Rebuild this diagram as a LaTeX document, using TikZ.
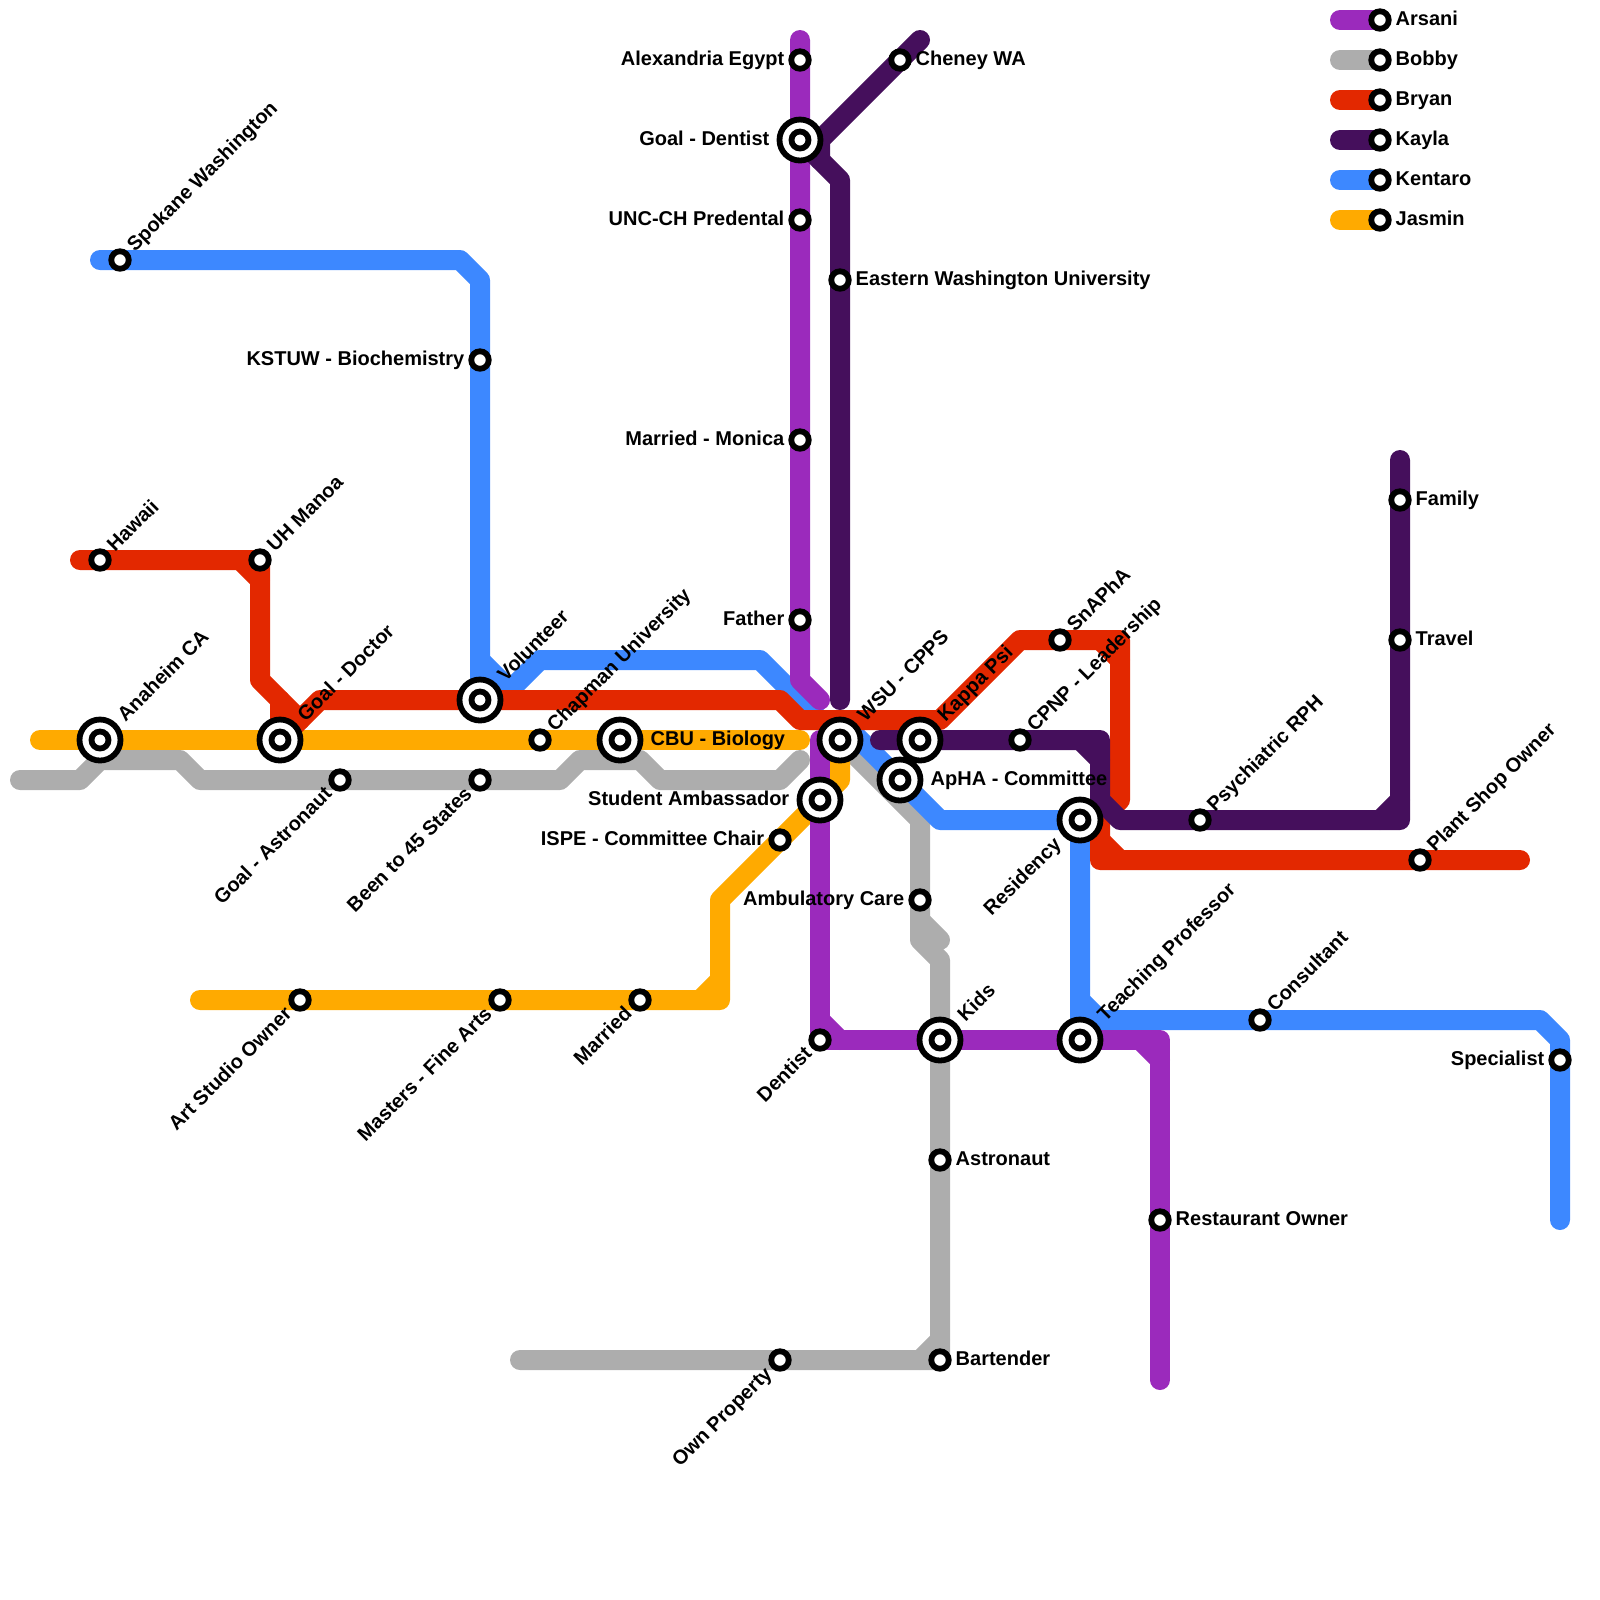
\documentclass[tikz,border=0pt]{standalone}
\usepackage{fontspec}
\setmainfont{Liberation Sans}
\usetikzlibrary{backgrounds}
\definecolor{arsani}{RGB}{155,42,188}
\definecolor{bobby}{RGB}{173,173,173}
\definecolor{bryan}{RGB}{227,40,0}
\definecolor{kayla}{RGB}{69,15,92}
\definecolor{kentaro}{RGB}{61,136,255}
\definecolor{jasmin}{RGB}{255,170,0}
\tikzstyle{route} = [line width=0.2cm, line cap=round, line join=round]
\tikzstyle{smallstn} = [circle, draw=black, fill=white, line width=0.058cm, inner sep=0pt, minimum size=0.175cm]
\tikzstyle{bigstn} = [circle, draw=black, fill=white, line width=0.058cm, inner sep=0pt, minimum size=0.41cm, path picture={\draw [line width=0.058cm, fill=white] (path picture bounding box.center) circle (0.085cm);}]
\tikzstyle{lbl} = [font=\fontsize{5.69pt}{7pt}\selectfont\bfseries, text=black, inner ysep=0pt, text height=0.16cm, text depth=0.046cm, inner xsep=0.15cm]
\tikzstyle{lblr} = [lbl, anchor=west]
\tikzstyle{lbll} = [lbl, anchor=east]
\tikzstyle{lblu} = [lbl, anchor=west, rotate=45]
\tikzstyle{lbld} = [lbl, anchor=east, rotate=45]
\tikzstyle{far} = [inner xsep=0.3cm]
\begin{document}
\begin{tikzpicture}[x=0.2cm, y=-0.2cm]
        \useasboundingbox (0,0) rectangle (80,80);

        % stations
        \node (alex) [smallstn] at (40,3) {};
        \node (dentgoal) [bigstn] at (40,7) {};
        \node (unc) [smallstn] at (40,11) {};
        \node (monica) [smallstn] at (40,22) {};
        \node (father) [smallstn] at (40,31) {};
        \node (student) [bigstn] at (41,40) {};
        \node (dentist) [smallstn] at (41,52) {};
        \node (kids) [bigstn] at (47,52) {};
        \node (teach) [bigstn] at (54,52) {};
        \node (rest) [smallstn] at (58,61) {};

        \node (anaheim) [bigstn] at (5,37) {};
        \node (doctor) [bigstn] at (14,37) {};
        \node (chapman) [smallstn] at (27,37) {};
        \node (cbu) [bigstn] at (31,37) {};
        \node (ispe) [smallstn] at (39,42) {};
        \node (married) [smallstn] at (32,50) {};
        \node (fine) [smallstn] at (25,50) {};
        \node (art) [smallstn] at (15,50) {};

        \node (goalastro) [smallstn] at (17,39) {};
        \node (states) [smallstn] at (24,39) {};
        \node (wsu) [bigstn] at (42,37) {};
        \node (ambu) [smallstn] at (46,45) {};
        \node (astro) [smallstn] at (47,58) {};
        \node (bartend) [smallstn] at (47,68) {};
        \node (owner) [smallstn] at (39,68) {};

        \node (hawaii) [smallstn] at (5,28) {};
        \node (manoa) [smallstn] at (13,28) {};
        \node (volunteer) [bigstn] at (24,35) {};
        \node (kappa) [bigstn] at (46,37) {};
        \node (snapha) [smallstn] at (53,32) {};
        \node (plant) [smallstn] at (71,43) {};

        \node (cheney) [smallstn] at (45,3) {};
        \node (eastern) [smallstn] at (42,14) {};
        \node (cpnp) [smallstn] at (51,37) {};
        \node (psych) [smallstn] at (60,41) {};
        \node (family) [smallstn] at (70,25) {};
        \node (travel) [smallstn] at (70,32) {};

        \node (spokane) [smallstn] at (6,13) {};
        \node (kstuw) [smallstn] at (24,18) {};
        \node (apha) [bigstn] at (45,39) {};
        \node (resid) [bigstn] at (54,41) {};
        \node (consult) [smallstn] at (63,51) {};
        \node (special) [smallstn] at (78,53) {};

        \node (legarsani) [smallstn] at (69,1) {};
        \node (legbobby) [smallstn] at (69,3) {};
        \node (legbryan) [smallstn] at (69,5) {};
        \node (legkayla) [smallstn] at (69,7) {};
        \node (legkentaro) [smallstn] at (69,9) {};
        \node (legjasmin) [smallstn] at (69,11) {};

        % bends and line ends
        \coordinate (a1) at (40,2);
        \coordinate (a2) at (40,34);
        \coordinate (a3) at (41,35);
        \coordinate (a4) at (41,37);
        \coordinate (a5) at (41,51);
        \coordinate (a6) at (42,52);
        \coordinate (a7) at (58,52);
        \coordinate (a8) at (57,52);
        \coordinate (a9) at (58,53);
        \coordinate (a10) at (58,69);

        \coordinate (b1) at (1,39);
        \coordinate (b2) at (4,39);
        \coordinate (b3) at (5,38);
        \coordinate (b4) at (9,38);
        \coordinate (b5) at (10,39);
        \coordinate (b6) at (28,39);
        \coordinate (b7) at (29,38);
        \coordinate (b8) at (32,38);
        \coordinate (b9) at (33,39);
        \coordinate (b10) at (39,39);
        \coordinate (b11) at (40,38);
        \coordinate (b12) at (46,41);
        \coordinate (b13) at (46,46);
        \coordinate (b14) at (47,47);
        \coordinate (b15) at (46,47);
        \coordinate (b16) at (47,48);
        \coordinate (b17) at (46,68);
        \coordinate (b18) at (47,67);
        \coordinate (b19) at (26,68);

        \coordinate (r1) at (4,28);
        \coordinate (r2) at (12,28);
        \coordinate (r3) at (13,29);
        \coordinate (r4) at (13,34);
        \coordinate (r5) at (15,36);
        \coordinate (r6) at (14,35);
        \coordinate (r7) at (16,35);
        \coordinate (r8) at (39,35);
        \coordinate (r9) at (40,36);
        \coordinate (r10) at (47,36);
        \coordinate (r11) at (51,32);
        \coordinate (r12) at (56,32);
        \coordinate (r13) at (55,32);
        \coordinate (r14) at (56,33);
        \coordinate (r15) at (56,40);
        \coordinate (r16) at (55,41);
        \coordinate (r17) at (55,43);
        \coordinate (r18) at (55,42);
        \coordinate (r19) at (56,43);
        \coordinate (r20) at (76,43);

        \coordinate (k1) at (46,2);
        \coordinate (k2) at (41,7);
        \coordinate (k3) at (41,8);
        \coordinate (k4) at (42,9);
        \coordinate (k5) at (42,35);
        \coordinate (k6) at (44,37);
        \coordinate (k7) at (55,37);
        \coordinate (k8) at (54,37);
        \coordinate (k9) at (55,38);
        \coordinate (k10) at (55,40);
        \coordinate (k11) at (56,41);
        \coordinate (k12) at (70,41);
        \coordinate (k13) at (69,41);
        \coordinate (k14) at (70,40);
        \coordinate (k15) at (70,23);

        \coordinate (t1) at (5,13);
        \coordinate (t2) at (23,13);
        \coordinate (t3) at (24,14);
        \coordinate (t4) at (24,33);
        \coordinate (t5) at (25.5,34.5);
        \coordinate (t6) at (27,33);
        \coordinate (t7) at (25,35);
        \coordinate (t8) at (38,33);
        \coordinate (t9) at (41,36);
        \coordinate (t10) at (42,36);
        \coordinate (t11) at (47,41);
        \coordinate (t12) at (54,50);
        \coordinate (t13) at (55,51);
        \coordinate (t14) at (77,51);
        \coordinate (t15) at (78,52);
        \coordinate (t16) at (78,61);

        \coordinate (j1) at (2,37);
        \coordinate (j2) at (40,37);
        \coordinate (j3) at (42,39);
        \coordinate (j4) at (36,45);
        \coordinate (j5) at (36,50);
        \coordinate (j6) at (35,50);
        \coordinate (j7) at (36,49);
        \coordinate (j8) at (10,50);

        \coordinate (lega) at (67,1);
        \coordinate (legb) at (67,3);
        \coordinate (legr) at (67,5);
        \coordinate (legk) at (67,7);
        \coordinate (legt) at (67,9);
        \coordinate (legj) at (67,11);

        % routes
        \begin{scope}[on background layer]
        \draw [route, bobby] (b1) -- (b2) -- (b3) -- (b4) -- (b5) -- (goalastro.center) -- (states.center) -- (b6) -- (b7) -- (b8) -- (b9) -- (b10) -- (b11);
        \draw [route, bobby] (wsu.center) -- (b12) -- (ambu.center) -- (b15) -- (b16) -- (kids.center) -- (astro.center) -- (bartend.center) -- (owner.center) -- (b19);
        \draw [route, bobby] (b13) -- (b14);
        \draw [route, bobby] (b17) -- (b18);
        \draw [route, bobby] (legb) -- (legbobby.center);

        \draw [route, kentaro] (t1) -- (spokane.center) -- (t2) -- (t3) -- (kstuw.center) -- (volunteer.center) -- (t7) -- (t6);
        \draw [route, kentaro] (t4) -- (t5);
        \draw [route, kentaro] (t6) -- (t8) -- (t9) -- (t10) -- (t11) -- (resid.center) -- (teach.center);
        \draw [route, kentaro] (t12) -- (t13) -- (consult.center) -- (t14) -- (t15) -- (special.center) -- (t16);
        \draw [route, kentaro] (legt) -- (legkentaro.center);

        \draw [route, jasmin] (j1) -- (anaheim.center) -- (doctor.center) -- (chapman.center) -- (cbu.center) -- (j2);
        \draw [route, jasmin] (wsu.center) -- (j3) -- (ispe.center) -- (j4) -- (j5) -- (married.center) -- (fine.center) -- (art.center) -- (j8);
        \draw [route, jasmin] (j6) -- (j7);
        \draw [route, jasmin] (legj) -- (legjasmin.center);

        \draw [route, bryan] (r1) -- (hawaii.center) -- (manoa.center) -- (r4) -- (r5);
        \draw [route, bryan] (r2) -- (r3);
        \draw [route, bryan] (r6) -- (doctor.center) -- (r7) -- (volunteer.center) -- (r8) -- (r9) -- (r10) -- (r11) -- (snapha.center) -- (r12) -- (r15) -- (r16) -- (r17) -- (plant.center) -- (r20);
        \draw [route, bryan] (r13) -- (r14);
        \draw [route, bryan] (r18) -- (r19);
        \draw [route, bryan] (legr) -- (legbryan.center);

        \draw [route, arsani] (a1) -- (alex.center) -- (dentgoal.center) -- (unc.center) -- (monica.center) -- (father.center) -- (a2) -- (a3);
        \draw [route, arsani] (a4) -- (student.center) -- (dentist.center) -- (kids.center) -- (teach.center) -- (a7) -- (rest.center) -- (a10);
        \draw [route, arsani] (a5) -- (a6);
        \draw [route, arsani] (a8) -- (a9);
        \draw [route, arsani] (lega) -- (legarsani.center);

        \draw [route, kayla] (k1) -- (cheney.center) -- (k2) -- (k3);
        \draw [route, kayla] (dentgoal.center) -- (k4) -- (eastern.center) -- (k5);
        \draw [route, kayla] (k6) -- (kappa.center) -- (cpnp.center) -- (k7) -- (k10) -- (k11) -- (psych.center) -- (k12) -- (travel.center) -- (family.center) -- (k15);
        \draw [route, kayla] (k8) -- (k9);
        \draw [route, kayla] (k13) -- (k14);
        \draw [route, kayla] (legk) -- (legkayla.center);
        \end{scope}

        % labels
        \node (alext) [lbll] at (alex) {Alexandria Egypt};
        \node (dentgoalt) [lbll, far] at (dentgoal) {Goal - Dentist};
        \node (unct) [lbll] at (unc) {UNC-CH Predental};
        \node (monicat) [lbll] at (monica) {Married - Monica};
        \node (fathert) [lbll] at (father) {Father};
        \node (studentt) [lbll, far] at (student) {Student Ambassador};
        \node (dentistt) [lbld] at (dentist) {Dentist};
        \node (kidst) [lblu, far] at (kids) {Kids};
        \node (teacht) [lblu, far] at (teach) {Teaching Professor};
        \node (restt) [lblr] at (rest) {Restaurant Owner};

        \node (anaheimt) [lblu, far] at (anaheim) {Anaheim CA};
        \node (doctort) [lblu, far] at (doctor) {Goal - Doctor};
        \node (chapmant) [lblu] at (chapman) {Chapman University};
        \node (cbut) [lblr, far] at (cbu) {CBU - Biology};
        \node (ispet) [lbll] at (ispe) {ISPE - Committee Chair};
        \node (marriedt) [lbld] at (married) {Married};
        \node (finet) [lbld] at (fine) {Masters - Fine Arts};
        \node (artt) [lbld] at (art) {Art Studio Owner};

        \node (goalastrot) [lbld] at (goalastro) {Goal - Astronaut};
        \node (statest) [lbld] at (states) {Been to 45 States};
        \node (wsut) [lblu, far] at (wsu) {WSU - CPPS};
        \node (ambut) [lbll] at (ambu) {Ambulatory Care};
        \node (astrot) [lblr] at (astro) {Astronaut};
        \node (bartendt) [lblr] at (bartend) {Bartender};
        \node (ownert) [lbld] at (owner) {Own Property};

        \node (hawaiit) [lblu] at (hawaii) {Hawaii};
        \node (manoat) [lblu] at (manoa) {UH Manoa};
        \node (volunteert) [lblu, far] at (volunteer) {Volunteer};
        \node (kappat) [lblu, far] at (kappa) {Kappa Psi};
        \node (snaphat) [lblu] at (snapha) {SnAPhA};
        \node (plantt) [lblu] at (plant) {Plant Shop Owner};

        \node (cheneyt) [lblr] at (cheney) {Cheney WA};
        \node (easternt) [lblr] at (eastern) {Eastern Washington University};
        \node (cpnpt) [lblu] at (cpnp) {CPNP - Leadership};
        \node (psycht) [lblu] at (psych) {Psychiatric RPH};
        \node (familyt) [lblr] at (family) {Family};
        \node (travelt) [lblr] at (travel) {Travel};

        \node (spokanet) [lblu] at (spokane) {Spokane Washington};
        \node (kstuwt) [lbll] at (kstuw) {KSTUW - Biochemistry};
        \node (aphat) [lblr, far] at (apha) {ApHA - Committee};
        \node (residt) [lbld, far] at (resid) {Residency};
        \node (consultt) [lblu] at (consult) {Consultant};
        \node (specialt) [lbll] at (special) {Specialist};

        \node (legarsanit) [lblr] at (legarsani) {Arsani};
        \node (legbobbyt) [lblr] at (legbobby) {Bobby};
        \node (legbryant) [lblr] at (legbryan) {Bryan};
        \node (legkaylat) [lblr] at (legkayla) {Kayla};
        \node (legkentarot) [lblr] at (legkentaro) {Kentaro};
        \node (legjasmint) [lblr] at (legjasmin) {Jasmin};
    \end{tikzpicture}
\end{document}
